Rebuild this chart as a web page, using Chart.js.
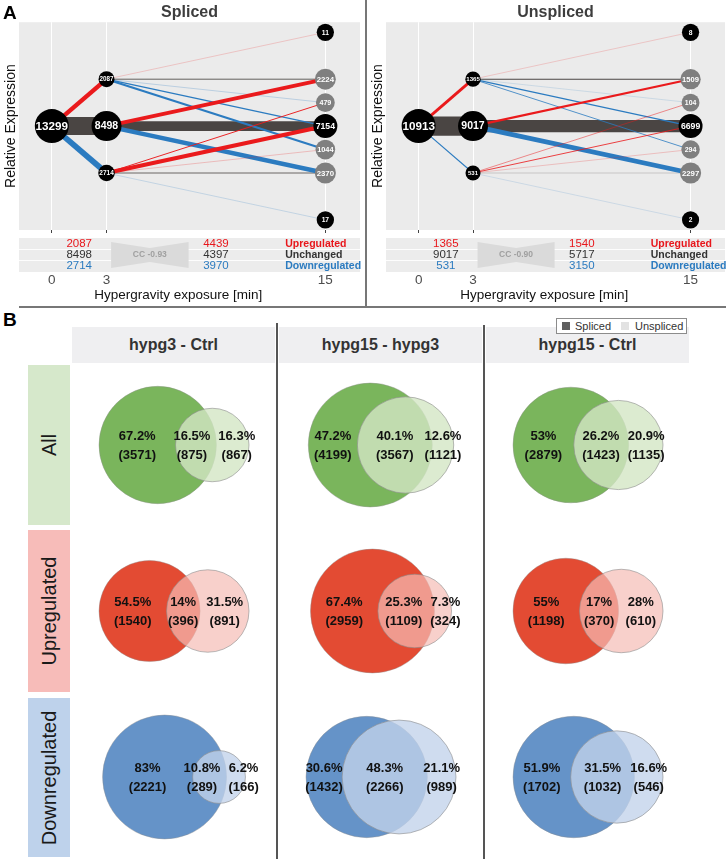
<!DOCTYPE html>
<html><head><meta charset="utf-8">
<script src="https://cdn.jsdelivr.net/npm/chart.js@4.4.1/dist/chart.umd.min.js"></script>
<style>
html,body{margin:0;padding:0;background:#fff;}
body{width:726px;height:859px;position:relative;overflow:hidden;font-family:"Liberation Sans",Arial,Helvetica,sans-serif;}
.abs{position:absolute;}
.hdr{position:absolute;top:327px;height:36px;width:203px;background:#efeff1;color:#333;font-weight:bold;font-size:16px;line-height:36px;text-align:center;}
.rowlab{position:absolute;left:28px;width:42px;}
.rowlab span{position:absolute;left:50%;top:50%;transform:translate(-50%,-50%) rotate(-90deg);white-space:nowrap;font-size:20px;color:#1a1a1a;}
.panelLetter{position:absolute;left:3px;font-weight:bold;font-size:19px;color:#000;}
</style></head><body>
<div class="abs" style="left:0;top:0;width:363px;height:305px"><canvas id="a1"></canvas></div>
<div class="abs" style="left:367px;top:0;width:359px;height:305px"><canvas id="a2"></canvas></div>
<div class="abs" style="left:365px;top:0;width:1.5px;height:307px;background:#777"></div>
<div class="abs" style="left:19px;top:306px;width:707px;height:1.5px;background:#777"></div>
<div class="panelLetter" style="top:2px">A</div>
<div class="panelLetter" style="top:309px">B</div>
<div id="panelB"></div>
<div class="abs" style="left:72px;top:365px;width:616px;height:494px"><canvas id="venn"></canvas></div>
<div class="abs" style="left:276px;top:323px;width:1.5px;height:536px;background:#555"></div>
<div class="abs" style="left:483px;top:325px;width:1.5px;height:534px;background:#555"></div>
<div class="abs" id="legend" style="left:556px;top:318px;width:129px;height:14px;border:1px solid #8c8c8c;background:#fff;font-size:11px;color:#333;line-height:14px;">
  <span class="abs" style="left:5px;top:3px;width:8px;height:8px;background:#5f5f5f"></span>
  <span class="abs" id="legS" style="left:18px;top:0"></span>
  <span class="abs" style="left:64px;top:3px;width:8px;height:8px;background:#e2e2e2"></span>
  <span class="abs" id="legU" style="left:78px;top:0"></span>
</div>
<script>
const FONT = '"Liberation Sans", Arial, Helvetica, sans-serif';

// ---------- Panel A data ----------
const timePoints = [0, 3, 15];
const flowNodeTime  = [0, 3, 3, 3, 15, 15, 15, 15, 15, 15, 15];
const flowNodeLevel = [0, 2, 0, -2, 4, 2, 1, 0, -1, -2, -4];
const flowEdgeFrom  = [0, 0, 0, 1, 1, 1, 1, 1, 2, 2, 2, 3, 3, 3, 3, 3];
const flowEdgeTo    = [1, 2, 3, 4, 5, 6, 7, 8, 5, 7, 9, 6, 7, 8, 9, 10];

const splicedNodeCount = [13299, 2087, 8498, 2714, 11, 2224, 479, 7154, 1044, 2370, 17];
const splicedEdgeCount = [2087, 8498, 2714, 11, 400, 30, 626, 1020, 1824, 4604, 2070, 449, 1924, 24, 300, 17];
const splicedStrip3  = [2087, 8498, 2714];
const splicedStrip15 = [4439, 4397, 3970];
const splicedCC = -0.93;

const unsplicedNodeCount = [10913, 1365, 9017, 531, 8, 1509, 104, 6699, 294, 2297, 2];
const unsplicedEdgeCount = [1365, 9017, 531, 8, 500, 4, 579, 274, 1009, 5731, 2277, 100, 389, 20, 20, 2];
const unsplicedStrip3  = [1365, 9017, 531];
const unsplicedStrip15 = [1540, 5717, 3150];
const unsplicedCC = -0.90;

const regulationLabels = ['Upregulated', 'Unchanged', 'Downregulated'];

// ---------- Panel B data ----------
const vennCols = ['hypg3 - Ctrl', 'hypg15 - hypg3', 'hypg15 - Ctrl'];
const vennRows = ['All', 'Upregulated', 'Downregulated'];
const splicedOnly   = [[3571, 4199, 2879], [1540, 2959, 1198], [2221, 1432, 1702]];
const sharedGenes   = [[875, 3567, 1423], [396, 1109, 370], [289, 2266, 1032]];
const unsplicedOnly = [[867, 1121, 1135], [891, 324, 610], [166, 989, 546]];
const pctSpliced    = [[67.2, 47.2, 53], [54.5, 67.4, 55], [83, 30.6, 51.9]];
const pctShared     = [[16.5, 40.1, 26.2], [14, 25.3, 17], [10.8, 48.3, 31.5]];
const pctUnspliced  = [[16.3, 12.6, 20.9], [31.5, 7.3, 28], [6.2, 21.1, 16.6]];
const legendLabels = ['Spliced', 'Unspliced'];

// ---------- styles ----------
const COL_UP = [234, 26, 28], COL_DOWN = [43, 123, 192], COL_SAME = [74, 69, 67];
const STRIP_COLORS = ['#e8161b', '#333333', '#2b7bc0'];
const PX_PER_GENE = 18 / 8498;

const panelBgPlugin = {
  id: 'panelBg',
  beforeDraw(chart) {
    const {ctx, chartArea: ca} = chart;
    ctx.save(); ctx.fillStyle = '#ebebeb';
    ctx.fillRect(ca.left, ca.top, ca.right - ca.left, ca.bottom - ca.top);
    ctx.restore();
  }
};

const nodeLabelPlugin = {
  id: 'nodeLabels',
  afterDatasetsDraw(chart) {
    const ds = chart.data.datasets[0];
    const meta = chart.getDatasetMeta(0);
    const ctx = chart.ctx;
    ctx.save();
    ctx.fillStyle = '#fff'; ctx.textAlign = 'center'; ctx.textBaseline = 'middle';
    meta.data.forEach((el, i) => {
      const r = ds.pointRadius[i];
      ctx.font = 'bold ' + (0.6 * r + 1.5).toFixed(1) + 'px ' + FONT;
      ctx.fillText(String(ds.counts[i]), el.x, el.y + 0.5);
    });
    ctx.restore();
  }
};

const stripPlugin = {
  id: 'strip',
  afterDraw(chart, args, o) {
    const {ctx, chartArea: ca} = chart;
    const x = chart.scales.x;
    const top = ca.bottom + 8, bot = ca.bottom + 42;
    ctx.save();
    ctx.fillStyle = '#ececec';
    ctx.fillRect(ca.left, top, ca.right - ca.left, bot - top);
    ctx.strokeStyle = 'rgba(255,255,255,0.9)'; ctx.lineWidth = 1;
    [top + 11.5, top + 22.5].forEach(yy => { ctx.beginPath(); ctx.moveTo(ca.left, yy); ctx.lineTo(ca.right, yy); ctx.stroke(); });
    const bx1 = x.getPixelForValue(3.25), bx2 = x.getPixelForValue(7.5), bm = (bx1 + bx2) / 2;
    const t1 = top + 4, b1 = bot - 4, pinch = 6;
    ctx.fillStyle = '#dadada';
    ctx.beginPath(); ctx.moveTo(bx1, t1); ctx.lineTo(bm, t1 + pinch); ctx.lineTo(bx2, t1); ctx.lineTo(bx2, b1);
    ctx.lineTo(bm, b1 - pinch); ctx.lineTo(bx1, b1); ctx.closePath(); ctx.fill();
    ctx.fillStyle = '#a0a0a0'; ctx.font = 'bold 8.5px ' + FONT; ctx.textAlign = 'center'; ctx.textBaseline = 'middle';
    ctx.fillText('CC ' + o.cc.toFixed(2), bm, (t1 + b1) / 2);
    const xl = x.getPixelForValue(1.5), xr = x.getPixelForValue(9), xlab = x.getPixelForValue(12.8);
    for (let k = 0; k < 3; k++) {
      const yy = top + 6 + k * 11;
      ctx.fillStyle = STRIP_COLORS[k];
      ctx.font = '11.5px ' + FONT; ctx.textAlign = 'center';
      ctx.fillText(String(o.left[k]), xl, yy);
      ctx.fillText(String(o.right[k]), xr, yy);
      ctx.font = 'bold 10.5px ' + FONT; ctx.textAlign = 'left';
      ctx.fillText(o.labels[k], xlab, yy);
    }
    ctx.restore();
  }
};

function buildFlow(canvasId, title, nodeCount, edgeCount, strip3, strip15, cc, rightPad) {
  const colMax = {};
  flowNodeTime.forEach((t, i) => { colMax[t] = Math.max(colMax[t] || 0, nodeCount[i]); });
  const radius = nodeCount.map((n, i) => {
    const t = flowNodeTime[i], f = n / colMax[t];
    if (t === 0) return 17;
    if (t === 3) return 7.5 + 7.5 * f * f;
    return 8.5 + 3.5 * Math.sqrt(f);
  });
  const nodeColor = flowNodeTime.map((t, i) => (t === 15 && [1, 2].includes(Math.abs(flowNodeLevel[i]))) ? '#7f7f7f' : '#000000');
  const datasets = [{
    label: 'nodes',
    data: flowNodeTime.map((t, i) => ({x: t, y: flowNodeLevel[i]})),
    counts: nodeCount,
    pointRadius: radius, pointHoverRadius: radius,
    backgroundColor: nodeColor, borderWidth: 0, pointBorderWidth: 0,
    showLine: false, order: 0, clip: false
  }];
  flowEdgeFrom.forEach((a, k) => {
    const b = flowEdgeTo[k], n = edgeCount[k];
    const dl = flowNodeLevel[b] - flowNodeLevel[a];
    const base = dl > 0 ? COL_UP : dl < 0 ? COL_DOWN : COL_SAME;
    const alpha = Math.min(1, 0.2 + n / 250);
    datasets.push({
      label: 'edge' + k,
      data: [{x: flowNodeTime[a], y: flowNodeLevel[a]}, {x: flowNodeTime[b], y: flowNodeLevel[b]}],
      showLine: true, pointRadius: 0, pointHoverRadius: 0,
      borderColor: 'rgba(' + base.join(',') + ',' + alpha + ')',
      borderWidth: Math.max(0.8, n * PX_PER_GENE),
      order: dl > 0 ? 1 : dl < 0 ? 2 : 3, clip: false
    });
  });
  return new Chart(document.getElementById(canvasId), {
    type: 'scatter',
    data: {datasets},
    options: {
      animation: false, responsive: true, maintainAspectRatio: false, events: [],
      layout: {autoPadding: false, padding: {left: 0, right: rightPad, top: 0, bottom: 0}},
      plugins: {
        legend: {display: false}, tooltip: {enabled: false},
        title: {display: true, text: title, fullSize: false, color: '#3d3d3d', font: {family: FONT, size: 16, weight: 'bold'}, padding: {top: 3, bottom: 0}},
        strip: {left: strip3, right: strip15, cc: cc, labels: regulationLabels}
      },
      scales: {
        x: {
          type: 'linear', min: -1.8, max: 16.9,
          afterBuildTicks: s => { s.ticks = timePoints.map(v => ({value: v})); },
          afterFit: s => { s.height = 75; s.paddingLeft = 0; s.paddingRight = 0; },
          grid: {color: '#ffffff', lineWidth: 1, tickColor: '#444', tickLength: 3, drawOnChartArea: true},
          border: {display: false},
          ticks: {padding: 39, color: '#4d4d4d', font: {family: FONT, size: 13.5}, callback: v => String(v)},
          title: {display: true, text: 'Hypergravity exposure [min]\u00a0\u00a0\u00a0\u00a0\u00a0\u00a0', color: '#111', font: {family: FONT, size: 13.5}, padding: {top: 0, bottom: 2}}
        },
        y: {
          type: 'linear', min: -4.43, max: 4.43,
          afterFit: s => { s.width = 19; },
          ticks: {display: false}, grid: {display: false}, border: {display: false},
          title: {display: true, text: 'Relative Expression', color: '#111', font: {family: FONT, size: 14}, padding: {top: 2.6, bottom: 0}}
        }
      }
    },
    plugins: [panelBgPlugin, nodeLabelPlugin, stripPlugin]
  });
}

buildFlow('a1', 'Spliced', splicedNodeCount, splicedEdgeCount, splicedStrip3, splicedStrip15, splicedCC, 3);
buildFlow('a2', 'Unspliced', unsplicedNodeCount, unsplicedEdgeCount, unsplicedStrip3, unsplicedStrip15, unsplicedCC, 1);

// ---------- Panel B layout (HTML labels) ----------
const pb = document.getElementById('panelB');
const hdrLeft = [72, 279, 486];
vennCols.forEach((c, i) => {
  const d = document.createElement('div'); d.className = 'hdr'; d.style.left = hdrLeft[i] + 'px'; d.textContent = c; pb.appendChild(d);
});
const rowBoxTop = [365, 530, 698], rowBoxH = [160, 162, 159], rowBoxBg = ['#d6e8cb', '#f7bcb9', '#bed2eb'];
vennRows.forEach((r, j) => {
  const d = document.createElement('div'); d.className = 'rowlab';
  d.style.top = rowBoxTop[j] + 'px'; d.style.height = rowBoxH[j] + 'px'; d.style.background = rowBoxBg[j];
  const s = document.createElement('span'); s.textContent = r; d.appendChild(s); pb.appendChild(d);
});
document.getElementById('legS').textContent = legendLabels[0];
document.getElementById('legU').textContent = legendLabels[1];

// ---------- Venn geometry ----------
function lensArea(r1, r2, d) {
  if (d >= r1 + r2) return 0;
  if (d <= Math.abs(r1 - r2)) return Math.PI * Math.min(r1, r2) ** 2;
  const a = r1 * r1 * Math.acos((d * d + r1 * r1 - r2 * r2) / (2 * d * r1));
  const b = r2 * r2 * Math.acos((d * d + r2 * r2 - r1 * r1) / (2 * d * r2));
  const c = 0.5 * Math.sqrt((-d + r1 + r2) * (d + r1 - r2) * (d - r1 + r2) * (d + r1 + r2));
  return a + b - c;
}
function solveDistance(r1, r2, target) {
  let lo = Math.abs(r1 - r2), hi = r1 + r2;
  for (let it = 0; it < 80; it++) {
    const mid = (lo + hi) / 2;
    if (lensArea(r1, r2, mid) > target) lo = mid; else hi = mid;
  }
  return (lo + hi) / 2;
}
const fmtPct = p => (Math.round(p * 10) / 10).toString() + '%';
const measureCtx = document.createElement('canvas').getContext('2d');
measureCtx.font = 'bold 13px ' + FONT;
const labelWidth = (a, b) => Math.max(measureCtx.measureText(a).width, measureCtx.measureText(b).width);

const B_LEFT = 72, B_TOP = 365, FIT_W = 150, FIT_H = 124, LABEL_GAP = 8;
const splicedFill = ['#7ab55c', '#e34b33', '#6593c8'];
const unsplicedFill = ['rgba(211,230,196,0.8)', 'rgba(245,188,181,0.7)', 'rgba(194,211,235,0.79)'];
const sPts = [], uPts = [], sCols = [], uCols = [], vennLabels = [];
for (let j = 0; j < 3; j++) {
  for (let i = 0; i < 3; i++) {
    const A = splicedOnly[j][i] + sharedGenes[j][i];
    const Bn = unsplicedOnly[j][i] + sharedGenes[j][i];
    const rA = Math.sqrt(A / Math.PI), rB = Math.sqrt(Bn / Math.PI);
    const d = solveDistance(rA, rB, sharedGenes[j][i]);
    const left = Math.min(-rA, d - rB), right = Math.max(rA, d + rB);
    const k = Math.min(FIT_W / (right - left), FIT_H / (2 * Math.max(rA, rB)));
    const cx = 174 + i * 207 - B_LEFT, cy = 445 + j * 166 - B_TOP;
    const off = cx - k * (left + right) / 2;
    const xA = off, xB = off + k * d, RA = k * rA, RB = k * rB;
    sPts.push({x: xA, y: cy, r: RA}); uPts.push({x: xB, y: cy, r: RB});
    sCols.push(splicedFill[j]); uCols.push(unsplicedFill[j]);
    const aL = xA - RA, aR = xA + RA, bL = xB - RB, bR = xB + RB;
    const labs = [
      {x: (aL + bL) / 2, y: cy, t1: fmtPct(pctSpliced[j][i]), t2: '(' + splicedOnly[j][i] + ')'},
      {x: (bL + aR) / 2, y: cy, t1: fmtPct(pctShared[j][i]), t2: '(' + sharedGenes[j][i] + ')'},
      {x: (aR + bR) / 2, y: cy, t1: fmtPct(pctUnspliced[j][i]), t2: '(' + unsplicedOnly[j][i] + ')'}
    ];
    labs.forEach(l => { l.w = labelWidth(l.t1, l.t2); });
    for (let it = 0; it < 30; it++) {
      for (let p = 0; p < 2; p++) {
        const a = labs[p], b = labs[p + 1];
        const need = (a.w + b.w) / 2 + LABEL_GAP;
        const gap = b.x - a.x;
        if (gap < need) { const s = (need - gap) / 2; a.x -= s; b.x += s; }
      }
    }
    labs.forEach(l => vennLabels.push(l));
  }
}
const vennLabelPlugin = {
  id: 'vennLabels',
  afterDatasetsDraw(chart) {
    const ctx = chart.ctx, xs = chart.scales.x, ys = chart.scales.y;
    ctx.save();
    ctx.fillStyle = '#111'; ctx.font = 'bold 13px ' + FONT; ctx.textAlign = 'center'; ctx.textBaseline = 'middle';
    vennLabels.forEach(l => {
      const px = xs.getPixelForValue(l.x), py = ys.getPixelForValue(l.y);
      ctx.fillText(l.t1, px, py - 9);
      ctx.fillText(l.t2, px, py + 10.5);
    });
    ctx.restore();
  }
};
new Chart(document.getElementById('venn'), {
  type: 'bubble',
  data: {datasets: [
    {label: legendLabels[1], data: uPts, backgroundColor: uCols, borderColor: 'rgba(140,140,140,0.6)', borderWidth: 1, order: 0, clip: false},
    {label: legendLabels[0], data: sPts, backgroundColor: sCols, borderColor: 'rgba(140,140,140,0.4)', borderWidth: 1, order: 1, clip: false}
  ]},
  options: {
    animation: false, responsive: true, maintainAspectRatio: false, events: [],
    layout: {autoPadding: false, padding: 0},
    scales: {x: {display: false, min: 0, max: 616}, y: {display: false, min: 0, max: 494, reverse: true}},
    plugins: {legend: {display: false}, tooltip: {enabled: false}}
  },
  plugins: [vennLabelPlugin]
});
</script>
</body></html>
